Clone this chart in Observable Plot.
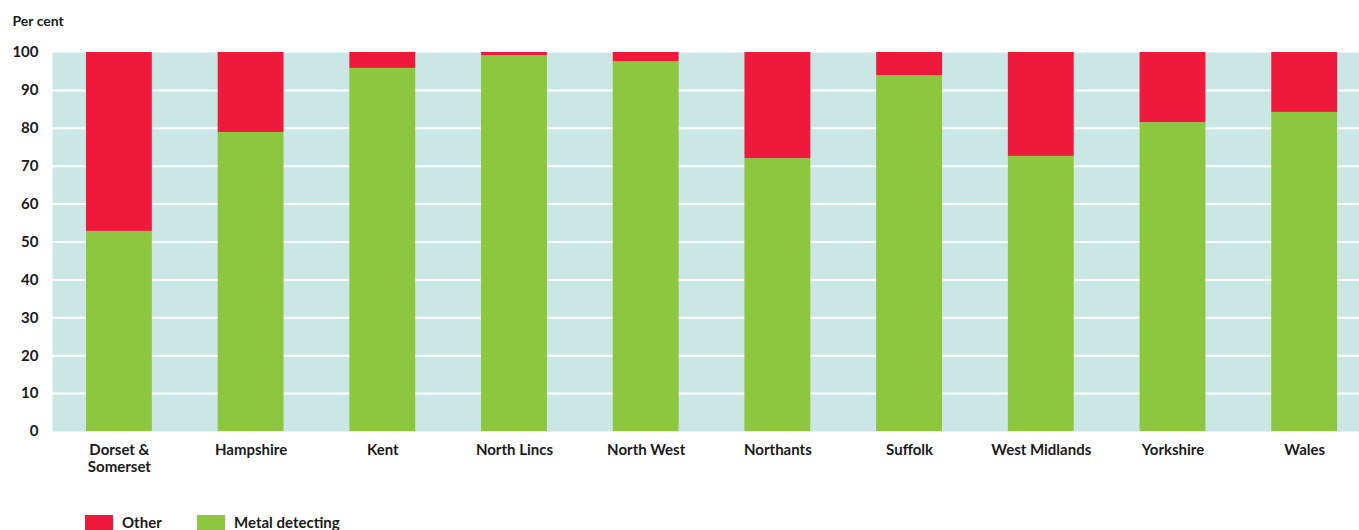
<!DOCTYPE html>
<html>
<head>
<meta charset="utf-8">
<script src="https://cdn.jsdelivr.net/npm/d3@7"></script>
<script src="https://cdn.jsdelivr.net/npm/@observablehq/plot@0.6"></script>
<style>
  html, body { margin: 0; padding: 0; background: #fff; }
  body { font-family: Lato, "Open Sans", sans-serif; width: 1359px; height: 530px; overflow: hidden; }
  .legend { display: flex; align-items: center; margin-top: 13px; padding-left: 85px; font-weight: 700; font-size: 15px; color: #1a1a1a; }
  .legend .item { display: flex; align-items: center; }
  .legend .sw { width: 28px; height: 15px; margin-right: 9px; }
</style>
</head>
<body>
<div id="chart"></div>
<div class="legend">
  <div class="item" style="width:112px"><div class="sw" style="background:#EF1A3B"></div><span>Other</span></div>
  <div class="item"><div class="sw" style="background:#8DC63F"></div><span>Metal detecting</span></div>
</div>
<script>
const regions = ["Dorset &\nSomerset", "Hampshire", "Kent", "North Lincs", "North West", "Northants", "Suffolk", "West Midlands", "Yorkshire", "Wales"];
const metalDetecting = [52.8, 78.9, 95.8, 99.2, 97.6, 72.0, 93.9, 72.6, 81.5, 84.2];
const other = [47.2, 21.1, 4.2, 0.8, 2.4, 28.0, 6.1, 27.4, 18.5, 15.8];
const seriesNames = ["Metal detecting", "Other"];
const seriesColors = ["#8DC63F", "#EF1A3B"];
const yTicks = [0, 10, 20, 30, 40, 50, 60, 70, 80, 90, 100];
const gridTicks = [10, 20, 30, 40, 50, 60, 70, 80, 90];

const rows = [];
regions.forEach((r, i) => {
  rows.push({region: r, series: seriesNames[0], value: metalDetecting[i]});
  rows.push({region: r, series: seriesNames[1], value: other[i]});
});

const chart = Plot.plot({
  width: 1359,
  height: 500,
  marginLeft: 52,
  marginRight: 0,
  marginTop: 52,
  marginBottom: 69,
  style: {fontFamily: "Lato, 'Open Sans', sans-serif", fontSize: "15px", fontWeight: 700, color: "#1a1a1a", background: "#fff"},
  x: {domain: regions, paddingInner: 0.5, paddingOuter: 0.212, align: 0.608, round: false, label: null, tickSize: 0, tickPadding: 11},
  y: {domain: [0, 100], ticks: yTicks, label: null, tickSize: 0, tickPadding: 14},
  color: {domain: seriesNames, range: seriesColors},
  marks: [
    Plot.frame({fill: "#CAE7E6", stroke: null}),
    Plot.ruleY(gridTicks, {stroke: "#fff", strokeWidth: 2}),
    Plot.barY(rows, Plot.stackY({x: "region", y: "value", fill: "series", order: seriesNames})),
    Plot.axisX({tickSize: 0, tickPadding: 11, fontSize: 15, fontWeight: 700, lineHeight: 1.15}),
    Plot.axisY({ticks: yTicks, tickSize: 0, tickPadding: 14, fontSize: 15, fontWeight: 700}),
    Plot.text(["Per cent"], {frameAnchor: "top-left", dx: -40, dy: -36, textAnchor: "start", fontSize: 14, fontWeight: 700})
  ]
});
document.getElementById("chart").appendChild(chart);
</script>
</body>
</html>
